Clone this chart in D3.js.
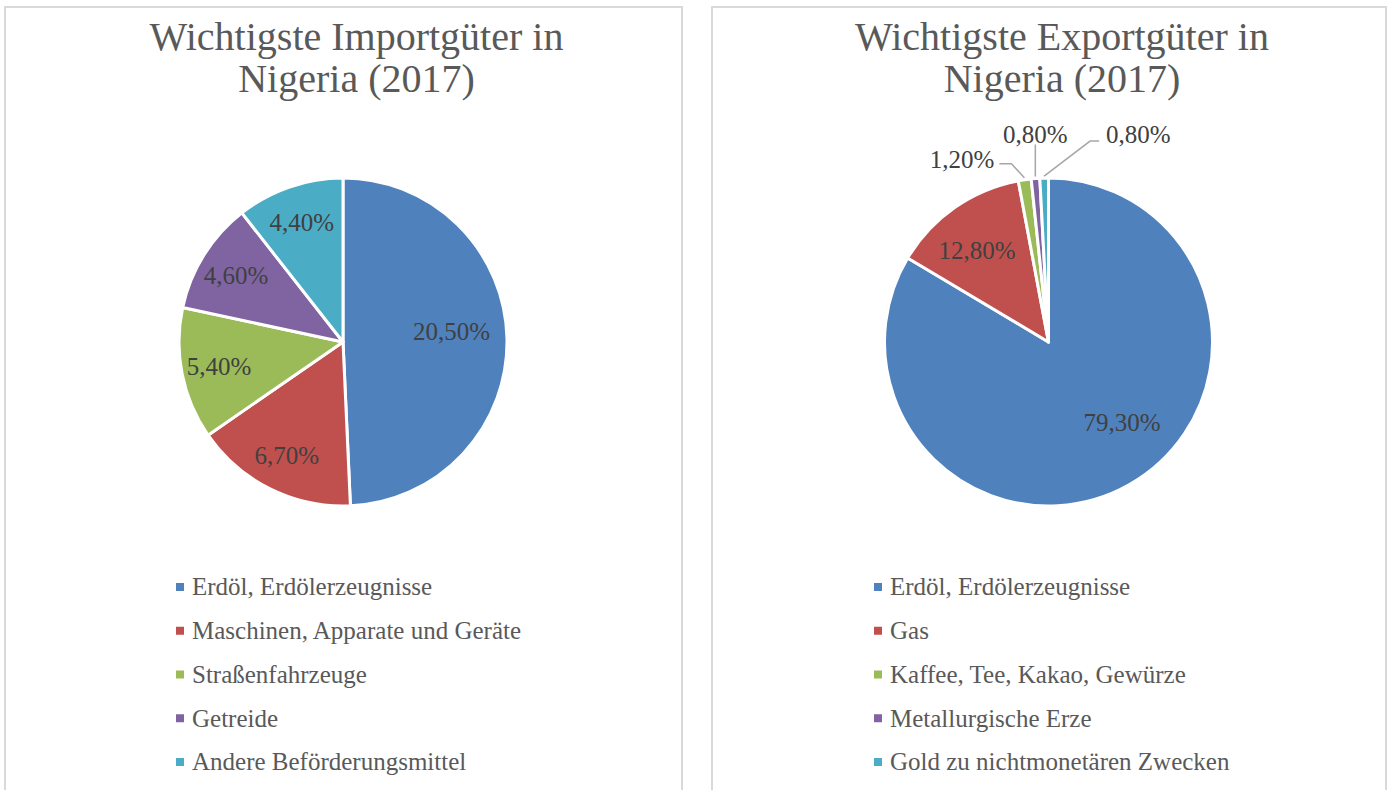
<!DOCTYPE html>
<html>
<head>
<meta charset="utf-8">
<script src="https://cdn.jsdelivr.net/npm/d3@7"></script>
<style>
  html, body { margin: 0; padding: 0; background: #fff; }
  svg { display: block; }
  text { font-family: "Liberation Serif", "DejaVu Serif", serif; }
</style>
</head>
<body>
<svg id="chart" width="1391" height="790"></svg>
<script>
// ---- Data ----
const importTitle = ["Wichtigste Importgüter in", "Nigeria (2017)"];
const importCategories = ["Erdöl, Erdölerzeugnisse", "Maschinen, Apparate und Geräte", "Straßenfahrzeuge", "Getreide", "Andere Beförderungsmittel"];
const importValues = [20.5, 6.7, 5.4, 4.6, 4.4];

const exportTitle = ["Wichtigste Exportgüter in", "Nigeria (2017)"];
const exportCategories = ["Erdöl, Erdölerzeugnisse", "Gas", "Kaffee, Tee, Kakao, Gewürze", "Metallurgische Erze", "Gold zu nichtmonetären Zwecken"];
const exportValues = [79.3, 12.8, 1.2, 0.8, 0.8];

const sliceColors = ["#4F81BD", "#C0504D", "#9BBB59", "#8064A2", "#4BACC6"];

// ---- Drawing ----
const svg = d3.select("#chart");
const fmt = v => v.toFixed(2).replace(".", ",") + "%";

function drawPanel(opts) {
  const { x0, x1, titleLines, categories, values } = opts;
  const g = svg.append("g");
  // panel border
  g.append("rect")
    .attr("x", x0).attr("y", 7)
    .attr("width", x1 - x0).attr("height", 820)
    .attr("fill", "#fff").attr("stroke", "#D9D9D9").attr("stroke-width", 2);

  const cx = (x0 + x1) / 2;
  // title
  g.append("text")
    .attr("x", cx + 13).attr("y", 50)
    .attr("text-anchor", "middle")
    .attr("fill", "#595959")
    .style("font-size", "40px")
    .selectAll("tspan").data(titleLines).join("tspan")
    .attr("x", cx + 13)
    .attr("dy", (d, i) => i === 0 ? 0 : 42)
    .text(d => d);

  const color = d3.scaleOrdinal().domain(categories).range(sliceColors);
  const pcx = cx - 0.5, pcy = 342, r = 164;
  const pie = d3.pie().sort(null).value(d => d.value);
  const arcs = pie(categories.map((c, i) => ({ cat: c, value: values[i] })));
  const total = d3.sum(values);
  const arc = d3.arc().innerRadius(0).outerRadius(r);

  const pg = g.append("g").attr("transform", `translate(${pcx},${pcy})`);
  pg.selectAll("path").data(arcs).join("path")
    .attr("d", arc)
    .attr("fill", d => color(d.data.cat))
    .attr("stroke", "#fff")
    .attr("stroke-width", 3)
    .attr("stroke-linejoin", "round");

  // labels
  let smallIdx = 0;
  arcs.forEach(d => {
    const frac = d.value / total;
    let mid = (d.startAngle + d.endAngle) / 2;
    if (frac >= 0.03) {
      let lr = 0.77 * r;
      if (frac > 0.4) {
        lr = 0.665 * r;
        mid -= (frac - 0.3) * 24 * Math.PI / 180;
      } else if (frac > 0.12 && frac < 0.14 && total > 90) {
        lr = 0.71 * r;
        mid -= 3 * Math.PI / 180;
      }
      const dir = [Math.sin(mid), -Math.cos(mid)];
      pg.append("text")
        .attr("x", dir[0] * lr).attr("y", dir[1] * lr)
        .attr("dy", "0.35em")
        .attr("text-anchor", "middle")
        .attr("fill", "#404040")
        .style("font-size", "25px")
        .text(fmt(d.data.value));
    } else {
      const dir = [Math.sin(mid), -Math.cos(mid)];
      // outside label with leader line
      const p0 = [dir[0] * (r + 2), dir[1] * (r + 2)];
      let pts, tx, ty, anchor;
      if (smallIdx === 0) {
        const e = [p0[0] - 13, p0[1] - 14];
        pts = [p0, e, [e[0] - 12, e[1]]];
        tx = e[0] - 17; ty = e[1] - 5; anchor = "end";
      } else if (smallIdx === 1) {
        const e = [p0[0], p0[1] - 32];
        pts = [p0, e];
        tx = e[0]; ty = e[1] - 10; anchor = "middle";
      } else {
        const e = [p0[0] + 46, p0[1] - 35];
        pts = [p0, e, [e[0] + 9, e[1]]];
        tx = e[0] + 16; ty = e[1] - 7; anchor = "start";
      }
      pg.append("path")
        .attr("d", d3.line()(pts))
        .attr("fill", "none")
        .attr("stroke", "#A6A6A6")
        .attr("stroke-width", 1.5);
      pg.append("text")
        .attr("x", tx).attr("y", ty)
        .attr("dy", "0.35em")
        .attr("text-anchor", anchor)
        .attr("fill", "#404040")
        .style("font-size", "25px")
        .text(fmt(d.data.value));
      smallIdx++;
    }
  });

  // legend
  const lx = opts.legendX;
  const ly = d3.scalePoint().domain(categories).range([587, 762]);
  const lg = g.append("g");
  const items = lg.selectAll("g").data(categories).join("g")
    .attr("transform", d => `translate(${lx},${ly(d)})`);
  items.append("rect")
    .attr("x", 0).attr("y", -4).attr("width", 8).attr("height", 8)
    .attr("fill", d => color(d));
  items.append("text")
    .attr("x", 16).attr("y", 0).attr("dy", "0.33em")
    .attr("fill", "#595959")
    .style("font-size", "25px")
    .text(d => d);
}

drawPanel({ x0: 5, x1: 682, titleLines: importTitle, categories: importCategories, values: importValues, legendX: 176 });
drawPanel({ x0: 712, x1: 1386, titleLines: exportTitle, categories: exportCategories, values: exportValues, legendX: 874 });
</script>
</body>
</html>
